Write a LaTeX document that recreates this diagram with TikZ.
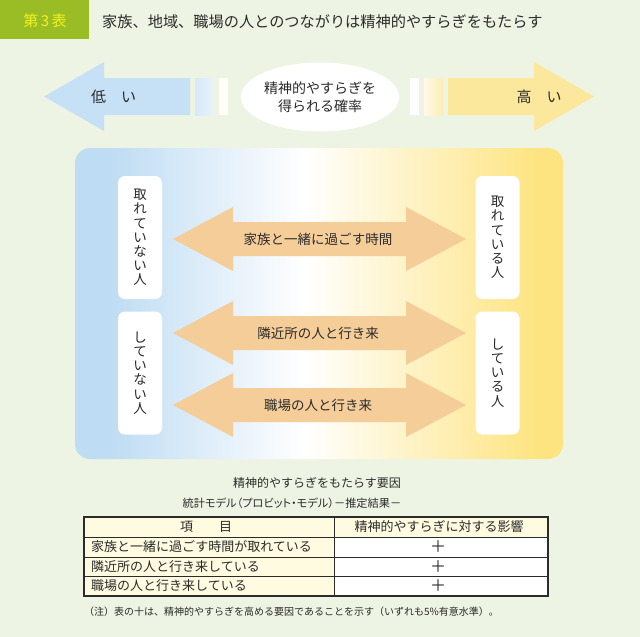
\documentclass[tikz,border=0pt]{standalone}
\usepackage{fontspec}
\setmainfont{Noto Sans CJK JP}
\newfontfamily\propfont[RawFeature=+palt]{Noto Sans CJK JP}
\usetikzlibrary{shapes.geometric}

\definecolor{bg}{HTML}{EEF4E3}
\definecolor{hdgreen}{HTML}{9ABD26}
\definecolor{hdyellow}{HTML}{F2F21E}
\definecolor{lowblue}{HTML}{C6E0F5}
\definecolor{highyellow}{HTML}{FCE89C}
\definecolor{boxblue}{HTML}{BEDCF3}
\definecolor{boxyellow}{HTML}{FDE481}
\definecolor{peach}{HTML}{F5CD98}
\definecolor{cream}{HTML}{FFFBE1}
\definecolor{ink}{HTML}{2B2B2B}

% panel shading: blue -> white -> yellow
\pgfdeclarehorizontalshading{panel}{100bp}{color(0bp)=(boxblue); color(28.5bp)=(boxblue);
    color(48.5bp)=(white); color(72.5bp)=(boxyellow); color(100bp)=(boxyellow)}

\begin{document}
\begin{tikzpicture}[x=1pt, y=-1pt, text=ink, inner sep=0pt,
    side/.style={fill=white, rounded corners=7pt, minimum width=44pt, minimum height=123pt, align=center, font=\fontsize{13.5}{14.2}\selectfont},
    big/.style={font=\fontsize{15}{18}\selectfont},
    mid/.style={font=\fontsize{13.5}{16}\selectfont},
    cell/.style={font=\fontsize{13}{15}\selectfont}]
    \useasboundingbox (0,0) rectangle (640,637);
    \fill[bg] (0,0) rectangle (640,637);

    % heading
    \fill[hdgreen] (0,0) rectangle (89,39);
    \node[big, text=hdyellow] (num) at (45,21) {第\,3\,表};
    \node[font=\fontsize{15.2}{18}\selectfont, anchor=west] (title) at (102,22) {家族、地域、職場の人とのつながりは精神的やすらぎをもたらす};

    % low / high arrows
    \fill[lowblue] (44,96.5) -- (104,62) -- (104,78) -- (190,78) -- (190,115) -- (104,115) -- (104,131) -- cycle;
    \shade[left color=lowblue!70!white, right color=lowblue!40!white] (195,78) rectangle (213,115);
    \fill[white!97!yellow] (219,78) rectangle (228,115);
    \fill[highyellow] (594,96.5) -- (534,62) -- (534,78) -- (448,78) -- (448,115) -- (534,115) -- (534,131) -- cycle;
    \shade[left color=highyellow!25!white, right color=highyellow!75!white] (424,78) rectangle (443,115);
    \fill[white] (410,78) rectangle (419,115);
    \node[big] (low) at (113.5,97) {低　い};
    \node[big] (high) at (539,97) {高　い};
    \node[ellipse, fill=white, minimum width=150pt, minimum height=69pt, align=center,
        font=\fontsize{14}{18}\selectfont] (prob) at (320,97) {精神的やすらぎを\\得られる確率};

    % main panel
    \shade[rounded corners=15pt, shading=panel] (75,148) rectangle (563,459);
    \node[side] (notake) at (140,237.5) {取\\れ\\て\\い\\な\\い\\人};
    \node[side] (take) at (497.5,237.5) {取\\れ\\て\\い\\る\\人};
    \node[side] (nodo) at (140,373) {し\\て\\い\\な\\い\\人};
    \node[side] (do) at (497.5,373) {し\\て\\い\\る\\人};

    \foreach \y/\t [count=\i] in {239/家族と一緒に過ごす時間, 333/隣近所の人と行き来, 405/職場の人と行き来} {
        \fill[peach] (173,\y) -- (233,\y-32) -- (233,\y-17) -- (406,\y-17) -- (406,\y-32) -- (466,\y)
            -- (406,\y+32) -- (406,\y+17) -- (233,\y+17) -- (233,\y+32) -- cycle;
        \node[mid] (way\i) at (318,\y) {\t};
    }

    % table
    \node[font=\fontsize{12}{14}\selectfont] (cap1) at (317,483) {精神的やすらぎをもたらす要因};
    \node[font=\fontsize{11.2}{14}\selectfont\propfont] (cap2) at (292,503) {統計モデル（プロビット・モデル）－推定結果－};
    \fill[cream] (84,517) rectangle (548,537);
    \fill[cream] (84,537) rectangle (334,596);
    \fill[white] (334,537) rectangle (548,596);
    \draw[ink, line width=0.8pt] (84,537) -- (548,537) (84,557) -- (548,557) (84,576) -- (548,576) (334,517) -- (334,596);
    \draw[ink, line width=1.6pt] (84,517) rectangle (548,596);
    \node[cell] (item) at (206,527) {項　　目};
    \node[cell] (eff) at (439,527) {精神的やすらぎに対する影響};
    \foreach \y/\t [count=\i] in {547/家族と一緒に過ごす時間が取れている, 566.5/隣近所の人と行き来している, 586/職場の人と行き来している} {
        \node[cell, anchor=west] (row\i) at (91,\y) {\t};
        \node[font=\fontsize{16}{16}\selectfont] (plus\i) at (438,\y) {＋};
    }
    \node[font=\fontsize{10}{12}\selectfont, anchor=west] (note) at (84,612) {（注）表の十は、精神的やすらぎを高める要因であることを示す（いずれも5\%有意水準）。};
\end{tikzpicture}
\end{document}
